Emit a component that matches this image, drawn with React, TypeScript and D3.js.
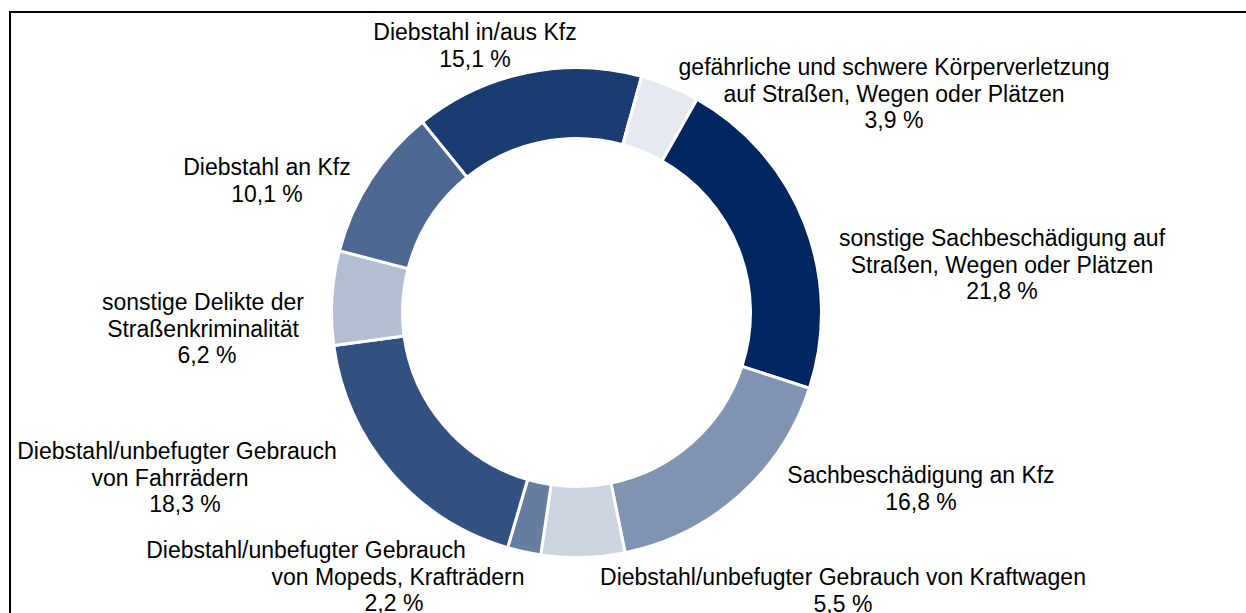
import React from "react";
import * as d3 from "d3";

// ---- data ----
const categories: string[][] = [
  ["Diebstahl in/aus Kfz"],
  ["gefährliche und schwere Körperverletzung", "auf Straßen, Wegen oder Plätzen"],
  ["sonstige Sachbeschädigung auf", "Straßen, Wegen oder Plätzen"],
  ["Sachbeschädigung an Kfz"],
  ["Diebstahl/unbefugter Gebrauch von Kraftwagen"],
  ["Diebstahl/unbefugter Gebrauch", "von Mopeds, Krafträdern"],
  ["Diebstahl/unbefugter Gebrauch", "von Fahrrädern"],
  ["sonstige Delikte der", "Straßenkriminalität"],
  ["Diebstahl an Kfz"],
];
const values: number[] = [15.1, 3.9, 21.8, 16.8, 5.5, 2.2, 18.3, 6.2, 10.1];
const valueLabels: string[] = ["15,1 %", "3,9 %", "21,8 %", "16,8 %", "5,5 %", "2,2 %", "18,3 %", "6,2 %", "10,1 %"];

// ---- styles / layout ----
const colors = ["#1a3c70", "#e6e9ef", "#002660", "#8093b0", "#ccd4df", "#667da0", "#335180", "#b3bed0", "#4d6790"];
// label anchor: x center, y of first line center, per-line x shifts
const labelLayout: { x: number; y: number; dx?: number[] }[] = [
  { x: 475, y: 32 },
  { x: 894, y: 67 },
  { x: 1002, y: 238 },
  { x: 921, y: 475 },
  { x: 843, y: 577 },
  { x: 398, y: 550, dx: [-92, 0, -4] },
  { x: 177, y: 451, dx: [0, -7, 8] },
  { x: 203, y: 302, dx: [0, 0, 4] },
  { x: 267, y: 167 },
];

const W = 1246, H = 613;
const cx = 576.5, cy = 312.5, R = 245, r = 174;
const startDeg = -39;
const lineH = 26.5;

export default function App() {
  const pie = d3
    .pie<number>()
    .sort(null)
    .value((d) => d)
    .startAngle((startDeg * Math.PI) / 180)
    .endAngle((startDeg * Math.PI) / 180 + 2 * Math.PI);
  const arcs = pie(values);
  const arc = d3.arc<d3.PieArcDatum<number>>().innerRadius(r).outerRadius(R);

  return (
    <svg width={W} height={H} style={{ position: "absolute", left: 0, top: 0, background: "#fff" }}
      fontFamily="'Liberation Sans', Arial, sans-serif">
      <rect x={10} y={12} width={1400} height={800} fill="none" stroke="#000" strokeWidth={2} />
      <g transform={`translate(${cx},${cy})`}>
        {arcs.map((a, i) => (
          <path key={i} d={arc(a) || ""} fill={colors[i]} stroke="#fff" strokeWidth={3} strokeLinejoin="miter" />
        ))}
      </g>
      {categories.map((lines, i) => {
        const L = labelLayout[i];
        const all = [...lines, valueLabels[i]];
        return (
          <text key={i} fontSize={23} textAnchor="middle" fill="#000">
            {all.map((t, j) => (
              <tspan key={j} x={L.x + (L.dx ? L.dx[j] || 0 : 0)} y={L.y + j * lineH} dy="0.35em">
                {t}
              </tspan>
            ))}
          </text>
        );
      })}
    </svg>
  );
}
